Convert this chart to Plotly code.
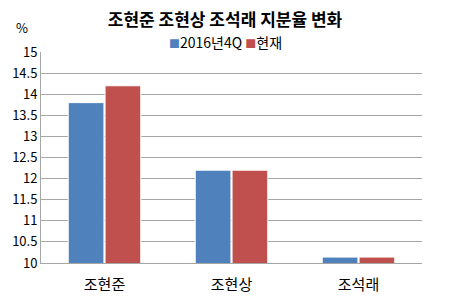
import plotly.graph_objects as go

categories = ["조현준", "조현상", "조석래"]
series_names = ["2016년4Q", "현재"]
values_2016q4 = [13.8, 12.2, 10.14]
values_now = [14.2, 12.2, 10.14]
series_colors = ["#4F81BD", "#C0504D"]
tick_vals = [10, 10.5, 11, 11.5, 12, 12.5, 13, 13.5, 14, 14.5, 15]
tick_text = ["10", "10.5", "11", "11.5", "12", "12.5", "13", "13.5", "14", "14.5", "15"]

font = "Noto Sans CJK KR"
fig = go.Figure()
fig.add_bar(x=categories, y=values_2016q4, name=series_names[0],
            marker=dict(color=series_colors[0], line=dict(color="white", width=1)))
fig.add_bar(x=categories, y=values_now, name=series_names[1],
            marker=dict(color=series_colors[1], line=dict(color="white", width=1)))

fig.update_layout(
    width=450, height=300,
    margin=dict(l=41, r=28, t=52, b=37),
    paper_bgcolor="white", plot_bgcolor="white",
    font=dict(family=font, size=13, color="#000"),
    barmode="group", bargap=0.42, bargroupgap=0.03,
    title=dict(text="<b>조현준 조현상 조석래 지분율 변화</b>", x=0.5, xanchor="center",
               y=1 - 20 / 300, yanchor="middle", font=dict(size=17, family=font)),
    showlegend=False,
)
legend_text = (f"<span style='color:{series_colors[0]};font-size:11px'>■</span>{series_names[0]} "
               f"<span style='color:{series_colors[1]};font-size:11px'>■</span>{series_names[1]}")
fig.add_annotation(text=legend_text, xref="paper", yref="paper", x=0.485,
                   y=(263 - 42) / 211, xanchor="center", yanchor="middle",
                   showarrow=False, font=dict(size=14, family=font))
fig.update_yaxes(range=[10, 15], tickvals=tick_vals, ticktext=tick_text,
                 showgrid=True, gridcolor="#A6A6A6", gridwidth=1,
                 showline=True, linecolor="#A6A6A6", ticks="", zeroline=False,
                 tickfont=dict(size=13), automargin=False)
fig.update_xaxes(showline=True, linecolor="#A6A6A6", ticks="",
                 tickfont=dict(size=15), ticklabelstandoff=8, automargin=False)
fig.add_annotation(text="%", xref="paper", yref="paper", x=(22 - 41) / 381,
                   y=(263 - 27) / 211, xanchor="center", yanchor="middle",
                   showarrow=False, font=dict(size=13, family=font))
fig.write_html("out.html")
